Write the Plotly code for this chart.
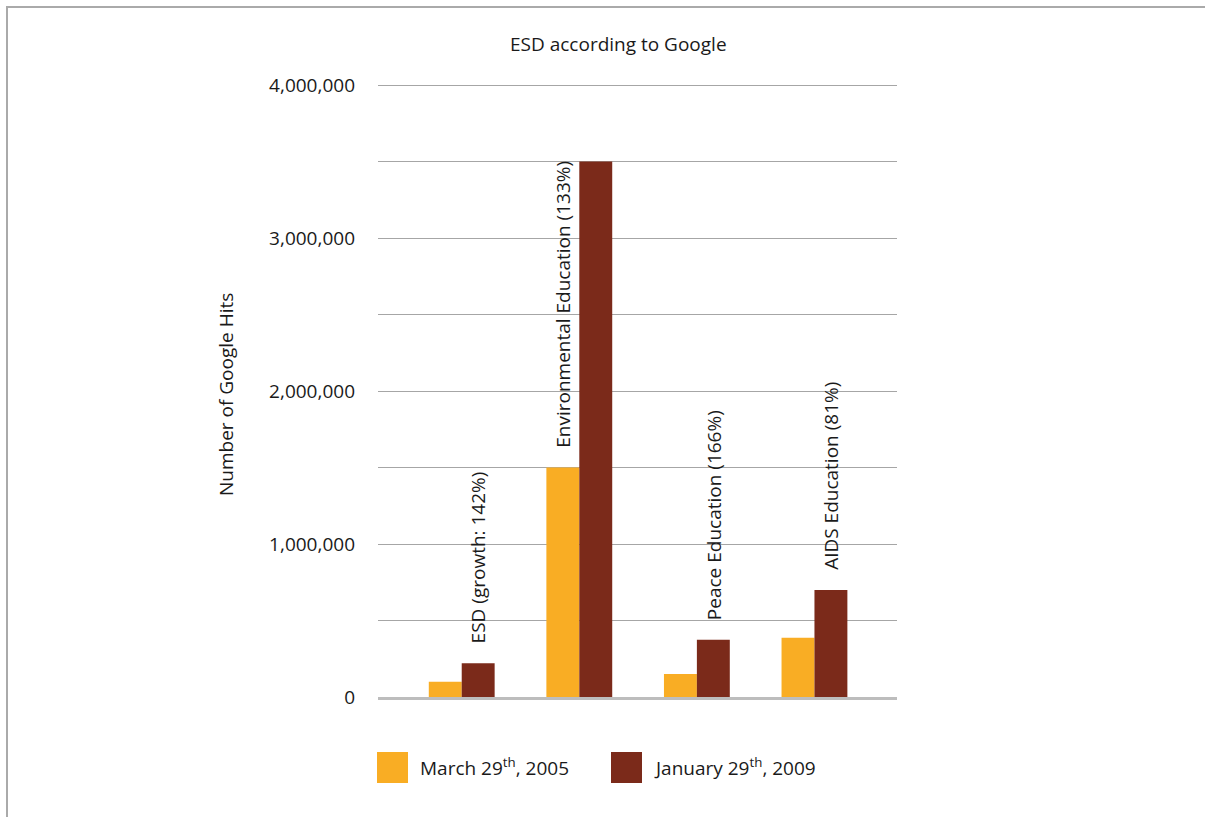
import plotly.graph_objects as go

categories = ["ESD", "Environmental Education", "Peace Education", "AIDS Education"]
labels = ["ESD (growth: 142%)", "Environmental Education (133%)",
          "Peace Education (166%)", "AIDS Education (81%)"]
march_2005 = [100000, 1500000, 150000, 387000]
january_2009 = [221000, 3500000, 374000, 700000]
series_names = ["March 29<sup>th</sup>, 2005", "January 29<sup>th</sup>, 2009"]
tick_vals = [0, 1000000, 2000000, 3000000, 4000000]
tick_text = ["0", "1,000,000", "2,000,000", "3,000,000", "4,000,000"]
minor_vals = [500000, 1500000, 2500000, 3500000]

ORANGE = "#F9AD24"
BROWN = "#7B2A1A"
FONT = "Open Sans"
FS = 19
TXT = "#1a1a1a"
GRID = "#a6a6a6"

W, H = 1205, 817
L, R, T, B = 378, 897, 78, 697
pw, ph = R - L, B - T
YMAX = 4000000 * (B - T) / (B - 85)

def px(x):
    return (x - L) / pw

def py(y):
    return (B - y) / ph

fig = go.Figure()
fig.add_trace(go.Bar(x=categories, y=march_2005, name=series_names[0],
                     marker=dict(color=ORANGE, line=dict(width=0)), showlegend=False))
fig.add_trace(go.Bar(x=categories, y=january_2009, name=series_names[1],
                     marker=dict(color=BROWN, line=dict(width=0)), showlegend=False))

annotations = []
half = 16.5
for i, (cat, lab) in enumerate(zip(categories, labels)):
    if i == 1:
        yv, xs = march_2005[i], -half
    else:
        yv, xs = january_2009[i], half
    annotations.append(dict(x=cat, y=yv, xref="x", yref="y", text=lab, textangle=-90,
                            showarrow=False, xanchor="center", yanchor="bottom",
                            xshift=xs, yshift=18,
                            font=dict(family=FONT, size=FS, color=TXT)))

annotations.append(dict(x=px(618.5), y=py(44), xref="paper", yref="paper",
                        text="ESD according to Google", showarrow=False,
                        xanchor="center", yanchor="middle",
                        font=dict(family=FONT, size=FS, color=TXT)))
annotations.append(dict(x=px(226), y=py(395), xref="paper", yref="paper",
                        text="Number of Google Hits", showarrow=False, textangle=-90,
                        xanchor="center", yanchor="middle",
                        font=dict(family=FONT, size=FS, color=TXT)))
annotations.append(dict(x=px(418), y=py(767), xref="paper", yref="paper",
                        text=series_names[0], showarrow=False, xanchor="left", yanchor="middle",
                        font=dict(family=FONT, size=FS, color=TXT)))
annotations.append(dict(x=px(652), y=py(767), xref="paper", yref="paper",
                        text=series_names[1], showarrow=False, xanchor="left", yanchor="middle",
                        font=dict(family=FONT, size=FS, color=TXT)))

shapes = [
    dict(type="rect", xref="paper", yref="paper", x0=px(377), x1=px(408), y0=py(783), y1=py(752),
         fillcolor=ORANGE, line=dict(width=0)),
    dict(type="rect", xref="paper", yref="paper", x0=px(611), x1=px(642), y0=py(783), y1=py(752),
         fillcolor=BROWN, line=dict(width=0)),
    dict(type="line", xref="paper", yref="paper", x0=px(6), x1=px(1210), y0=py(7), y1=py(7),
         line=dict(color="#aaaaaa", width=2)),
    dict(type="line", xref="paper", yref="paper", x0=px(7), x1=px(7), y0=py(6), y1=py(820),
         line=dict(color="#aaaaaa", width=2)),
]

fig.update_layout(
    width=W, height=H,
    margin=dict(l=L, r=W - R, t=T, b=H - B, pad=0),
    paper_bgcolor="white", plot_bgcolor="white",
    barmode="group", bargap=0.44, bargroupgap=0,
    showlegend=False,
    font=dict(family=FONT, size=FS, color=TXT),
    annotations=annotations, shapes=shapes,
    xaxis=dict(range=[-0.712, 3.702], showticklabels=False, showgrid=False,
               showline=True, linecolor="#bdbdbd", linewidth=3, ticks="", zeroline=False,
               fixedrange=True),
    yaxis=dict(range=[0, YMAX], tickvals=tick_vals, ticktext=tick_text,
               showgrid=True, gridcolor=GRID, gridwidth=1, zeroline=False,
               showline=False, ticks="", ticklabelstandoff=22,
               minor=dict(tickvals=minor_vals, showgrid=True, gridcolor=GRID, gridwidth=1, ticks=""),
               tickfont=dict(family=FONT, size=FS, color=TXT), fixedrange=True),
)

fig.write_html("out.html", config={"displayModeBar": False},
               post_script="document.body.style.margin='0px';")
